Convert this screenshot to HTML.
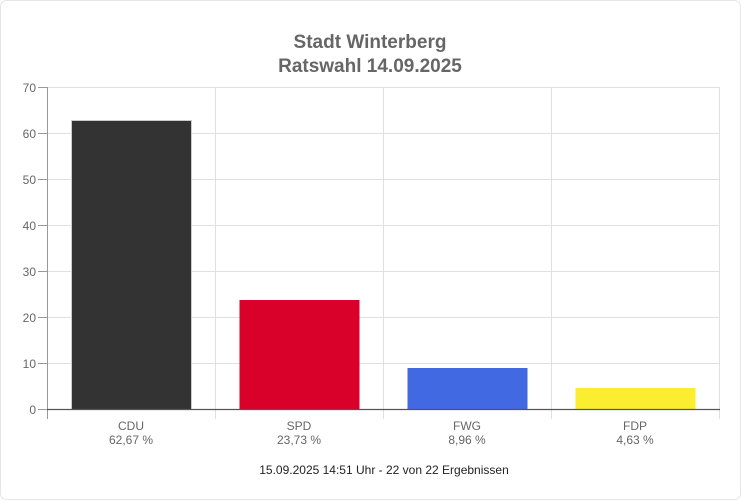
<!DOCTYPE html>
<html><head><style>body{margin:0;background:#fff}svg{display:block;font-family:"Liberation Sans",Arial,sans-serif}</style></head><body>
<svg width="741" height="500" viewBox="0 0 741 500">
<rect x="0.5" y="0.5" width="740" height="499" rx="6" fill="#fff" stroke="#e6e6e6"/>
<text x="370" y="48" text-anchor="middle" font-size="19" font-weight="bold" fill="#666">Stadt Winterberg</text>
<text x="370" y="72" text-anchor="middle" font-size="19" font-weight="bold" fill="#666">Ratswahl 14.09.2025</text>
<g stroke="#e0e0e0" stroke-width="1">
<line x1="47" y1="87.5" x2="720" y2="87.5"/><line x1="47" y1="133.5" x2="720" y2="133.5"/><line x1="47" y1="179.5" x2="720" y2="179.5"/><line x1="47" y1="225.5" x2="720" y2="225.5"/><line x1="47" y1="271.5" x2="720" y2="271.5"/><line x1="47" y1="317.5" x2="720" y2="317.5"/><line x1="47" y1="363.5" x2="720" y2="363.5"/>
<line x1="215.5" y1="87" x2="215.5" y2="419"/><line x1="383.5" y1="87" x2="383.5" y2="419"/><line x1="551.5" y1="87" x2="551.5" y2="419"/><line x1="719.5" y1="87" x2="719.5" y2="419"/>
</g>
<g stroke="#999"><line x1="47.5" y1="87" x2="47.5" y2="419"/>
<line x1="38" y1="87.5" x2="47" y2="87.5"/><line x1="38" y1="133.5" x2="47" y2="133.5"/><line x1="38" y1="179.5" x2="47" y2="179.5"/><line x1="38" y1="225.5" x2="47" y2="225.5"/><line x1="38" y1="271.5" x2="47" y2="271.5"/><line x1="38" y1="317.5" x2="47" y2="317.5"/><line x1="38" y1="363.5" x2="47" y2="363.5"/><line x1="38" y1="409.5" x2="47" y2="409.5"/></g>
<g font-size="12" fill="#666" text-anchor="end">
<text x="36" y="92">70</text><text x="36" y="138">60</text><text x="36" y="184">50</text><text x="36" y="230">40</text><text x="36" y="276">30</text><text x="36" y="322">20</text><text x="36" y="368">10</text><text x="36" y="414">0</text></g>
<rect x="71.5" y="120.5" width="120" height="289" fill="#333" stroke="#ccc" stroke-width="1"/>
<rect x="239.5" y="300" width="120" height="109.5" fill="#d9002a"/>
<rect x="407.5" y="368" width="120" height="41.5" fill="#4169e1"/>
<rect x="575.5" y="388" width="120" height="21.5" fill="#fbed2f"/>
<line x1="47" y1="409.5" x2="720" y2="409.5" stroke="#555" stroke-width="1.3"/>
<g font-size="12" fill="#666" text-anchor="middle">
<text x="131" y="430">CDU</text><text x="131" y="444">62,67 %</text>
<text x="299" y="430">SPD</text><text x="299" y="444">23,73 %</text>
<text x="467" y="430">FWG</text><text x="467" y="444">8,96 %</text>
<text x="635" y="430">FDP</text><text x="635" y="444">4,63 %</text>
</g>
<text x="384" y="474" text-anchor="middle" font-size="12" fill="#222">15.09.2025 14:51 Uhr - 22 von 22 Ergebnissen</text>
</svg>
</body></html>
